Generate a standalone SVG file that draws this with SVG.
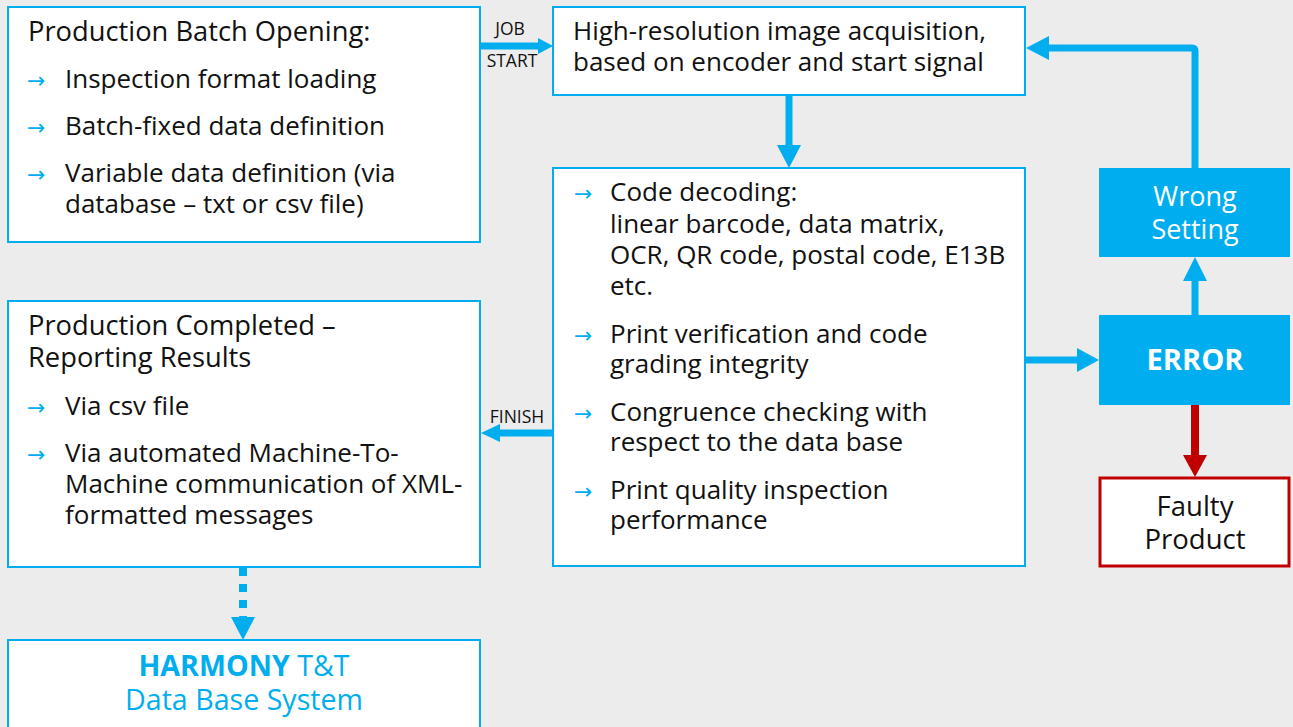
<svg xmlns="http://www.w3.org/2000/svg" width="1293" height="727" viewBox="0 0 1293 727">
<defs>
<style>
.bg{fill:#ececec}
.box{fill:#fff;stroke:#00aeef;stroke-width:2}
.fbox{fill:#00aeef}
.red{fill:#fff;stroke:#c00000;stroke-width:3}
text{font-family:"Open Sans","Noto Sans","Liberation Sans",sans-serif;font-size:26px;fill:#111}
.t{font-size:27.3px}
.ar{fill:#00aeef;font-family:"DejaVu Sans",sans-serif;font-size:22px}
.lbl{font-size:17.5px}
.w{fill:#fff;font-size:27px}
.c{text-anchor:middle}
.b{fill:#00aeef}
.ln{stroke:#00aeef;stroke-width:7;fill:none}
</style>
</defs>
<rect class="bg" x="0" y="0" width="1293" height="727"/>
<g id="connectors">
<line class="ln" x1="481" y1="46" x2="540" y2="46"/>
<polygon class="b" points="553,46 538,38 538,54"/>
<text class="lbl c" x="510" y="35">JOB</text>
<text class="lbl c" x="512" y="67">START</text>
<line class="ln" x1="789" y1="95" x2="789" y2="148"/>
<polygon class="b" points="789,168 777,145 801,145"/>
<line class="ln" x1="1026" y1="360" x2="1080" y2="360"/>
<polygon class="b" points="1099,360 1077,348 1077,372"/>
<line class="ln" x1="1195" y1="315" x2="1195" y2="275"/>
<polygon class="b" points="1195,257 1183,281 1207,281"/>
<path class="ln" d="M1195,168 V51 Q1195,48 1192,48 H1045"/>
<polygon class="b" points="1026,48 1049,36 1049,60"/>
<line stroke="#c00000" stroke-width="8" x1="1195" y1="405" x2="1195" y2="458"/>
<polygon fill="#c00000" points="1195,477 1183,455 1207,455"/>
<line class="ln" x1="553" y1="433" x2="498" y2="433"/>
<polygon class="b" points="481,433 500,424 500,442"/>
<text class="lbl c" x="517" y="423">FINISH</text>
<line stroke="#00aeef" stroke-width="8" stroke-dasharray="8,8" x1="243" y1="568" x2="243" y2="618"/>
<polygon class="b" points="243,640 231,617 255,617"/>
</g>
<g id="batch-opening">
<rect class="box" x="8" y="7" width="472" height="235"/>
<text class="t" x="28" y="41">Production Batch Opening:</text>
<text class="ar" x="27" y="88">→</text><text x="65" y="88">Inspection format loading</text>
<text class="ar" x="27" y="135">→</text><text x="65" y="135">Batch-fixed data definition</text>
<text class="ar" x="27" y="182">→</text><text x="65" y="182">Variable data definition (via<tspan x="65" dy="31">database – txt or csv file)</tspan></text>
</g>
<g id="acquisition">
<rect class="box" x="553" y="7" width="472" height="88"/>
<text x="573" y="40">High-resolution image acquisition,<tspan x="573" dy="31">based on encoder and start signal</tspan></text>
</g>
<g id="decoding">
<rect class="box" x="553" y="168" width="472" height="398"/>
<text class="ar" x="574" y="201">→</text><text x="610" y="201">Code decoding:<tspan x="610" dy="32">linear barcode, data matrix,</tspan><tspan x="610" dy="31">OCR, QR code, postal code, E13B</tspan><tspan x="610" dy="31">etc.</tspan></text>
<text class="ar" x="574" y="343">→</text><text x="610" y="343">Print verification and code<tspan x="610" dy="30">grading integrity</tspan></text>
<text class="ar" x="574" y="421">→</text><text x="610" y="421">Congruence checking with<tspan x="610" dy="30">respect to the data base</tspan></text>
<text class="ar" x="574" y="499">→</text><text x="610" y="499">Print quality inspection<tspan x="610" dy="30">performance</tspan></text>
</g>
<g id="completed">
<rect class="box" x="8" y="301" width="472" height="266"/>
<text class="t" x="28" y="335">Production Completed –<tspan x="28" dy="32">Reporting Results</tspan></text>
<text class="ar" x="27" y="415">→</text><text x="65" y="415">Via csv file</text>
<text class="ar" x="27" y="462">→</text><text x="65" y="462">Via automated Machine-To-<tspan x="65" dy="31">Machine communication of XML-</tspan><tspan x="65" dy="31">formatted messages</tspan></text>
</g>
<g id="harmony">
<rect class="box" x="8" y="640" width="472" height="100"/>
<text class="c" x="244" y="676" style="fill:#00aeef;font-size:28.6px"><tspan font-weight="bold">HARMONY</tspan> T&amp;T<tspan x="244" dy="34">Data Base System</tspan></text>
</g>
<g id="wrong-setting">
<rect class="fbox" x="1099" y="168" width="191" height="89"/>
<text class="w c" x="1195" y="206">Wrong<tspan x="1195" dy="33">Setting</tspan></text>
</g>
<g id="error">
<rect class="fbox" x="1099" y="315" width="191" height="90"/>
<text class="w c" x="1195" y="370" font-weight="bold" style="font-size:29px">ERROR</text>
</g>
<g id="faulty">
<rect class="red" x="1100" y="478" width="189" height="88"/>
<text class="c" x="1195" y="516" style="font-size:27.5px">Faulty<tspan x="1195" dy="33">Product</tspan></text>
</g>
</svg>
